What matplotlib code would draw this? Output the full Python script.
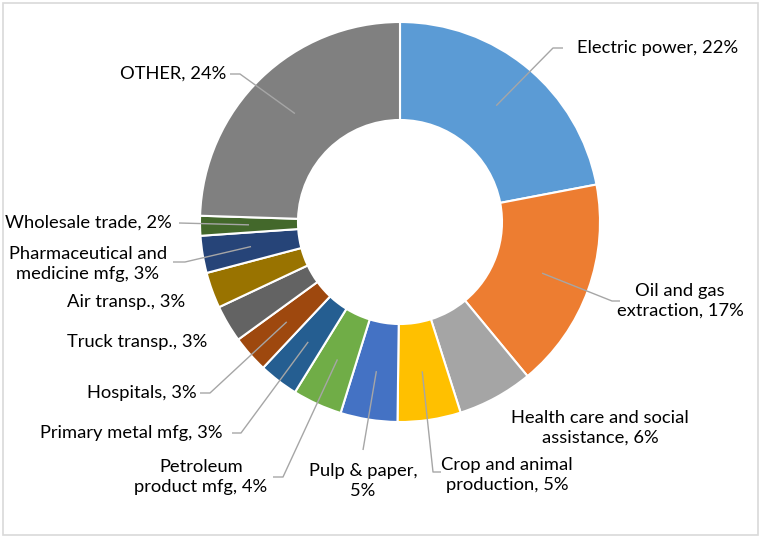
import matplotlib
matplotlib.use("Agg")
import matplotlib.pyplot as plt
from matplotlib.patches import Rectangle
import numpy as np

# ---- data ----
categories = ["Electric power", "Oil and gas extraction", "Health care and social assistance",
              "Crop and animal production", "Pulp & paper", "Petroleum product mfg",
              "Primary metal mfg", "Hospitals", "Truck transp.", "Air transp.",
              "Pharmaceutical and medicine mfg", "Wholesale trade", "OTHER"]
shares = [22.0, 17.0, 6.1, 5.1, 4.6, 4.0, 3.2, 3.0, 3.0, 2.9, 3.0, 1.6, 24.5]
labels = ["Electric power, 22%", "Oil and gas\nextraction, 17%",
          "Health care and social\nassistance, 6%", "Crop and animal\nproduction, 5%",
          "Pulp & paper,\n5%", "Petroleum\nproduct mfg, 4%", "Primary metal mfg, 3%",
          "Hospitals, 3%", "Truck transp., 3%", "Air transp., 3%",
          "Pharmaceutical and\nmedicine mfg, 3%", "Wholesale trade, 2%", "OTHER, 24%"]
colors = ["#5B9BD5", "#ED7D31", "#A5A5A5", "#FFC000", "#4472C4", "#70AD47",
          "#255E91", "#9E480E", "#636363", "#997300", "#264478", "#43682B", "#808080"]

# ---- layout (pixel coordinates, y downward) ----
W, H = 763, 539
CX, CY, R, RIN = 400, 222, 200, 102
# (x, y, ha) of label block
label_pos = [(577, 48, "left"), (680, 301, "center"), (600, 428, "center"),
             (507, 475, "center"), (363, 481, "center"), (201, 477, "center"),
             (223, 433, "right"), (197, 393, "right"), (207, 342, "right"),
             (185, 302, "right"), (88, 264, "center"), (172, 223, "right"),
             (226, 74, "right")]
# leader: (elbow, end) or None
leaders = [((553, 48), (563, 48)), ((612, 301), (620, 301)), None,
           ((433, 472), (441, 472)), ((363, 450), (363, 450)), ((283, 477), (273, 477)),
           ((241, 433), (232, 433)), ((210, 393), (200, 393)), None, None,
           ((185, 262), (173, 262)), ((179, 223), (179, 223)), ((240, 74), (230, 74))]

plt.rcParams['font.family'] = ['Lato', 'DejaVu Sans']
fig = plt.figure(figsize=(W / 100, H / 100), dpi=100)
ax = fig.add_axes([0, 0, 1, 1])

def Y(y):
    return H - y

wedges, _ = ax.pie(shares, colors=colors, startangle=90, counterclock=False,
                   radius=R, center=(CX, Y(CY)),
                   wedgeprops=dict(width=R - RIN, edgecolor="white", linewidth=1.5))
ax.set_xlim(0, W)
ax.set_ylim(0, H)
ax.set_aspect("equal")
ax.axis("off")

ax.add_patch(Rectangle((3, Y(535)), 755, 532, fill=False, edgecolor="#D9D9D9",
                       linewidth=1.2))

rmid = (R + RIN) / 2
for w, lab, (lx, ly, ha), ld in zip(wedges, labels, label_pos, leaders):
    ang = np.deg2rad((w.theta1 + w.theta2) / 2)
    sx, sy = CX + rmid * np.cos(ang), CY - rmid * np.sin(ang)
    if ld is not None:
        (ex, ey), (tx, ty) = ld
        ax.plot([sx, ex, tx], [Y(sy), Y(ey), Y(ty)], color="#A6A6A6", lw=1,
                solid_capstyle="butt")
    ax.text(lx, Y(ly), lab, ha=ha, va="center", multialignment="center",
            fontsize=13.2, color="#000000", linespacing=1.3)

fig.savefig("out.png", dpi=100)
